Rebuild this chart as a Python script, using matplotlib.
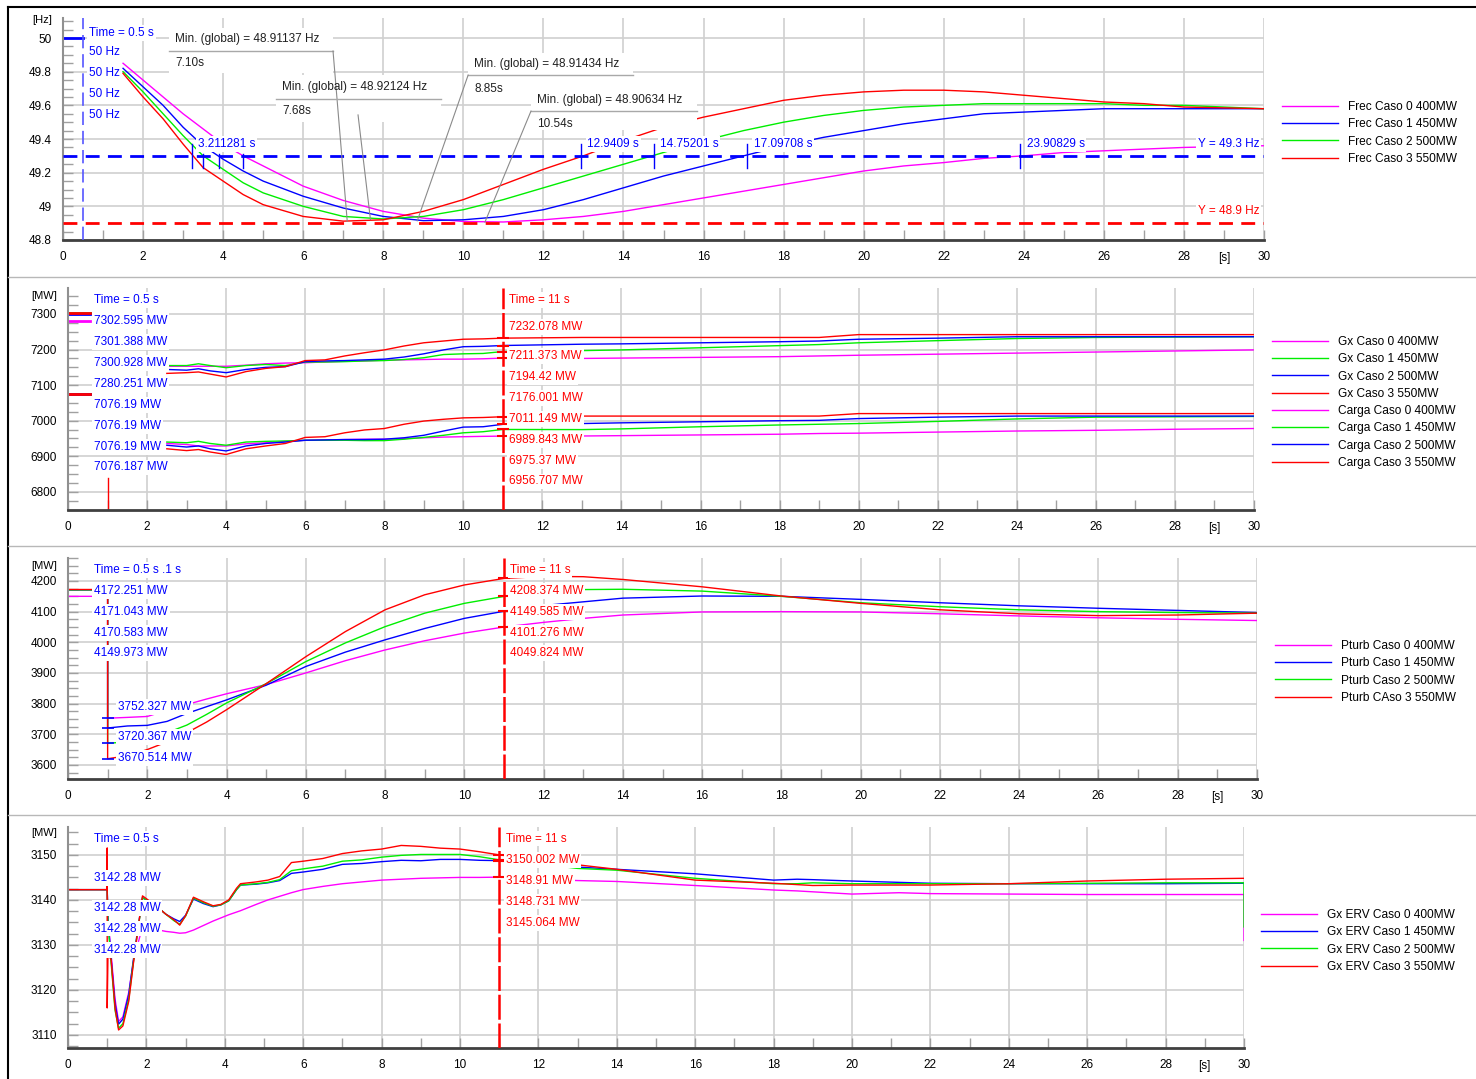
import numpy as np
import matplotlib
matplotlib.use('Agg')
import matplotlib.pyplot as plt
from matplotlib.lines import Line2D
from matplotlib.patches import Rectangle
from matplotlib.ticker import MultipleLocator

plt.rcParams['font.family'] = ['Liberation Sans', 'DejaVu Sans']
plt.rcParams['font.size'] = 8.5

MAG = '#ff00ff'
BLU = '#0000ff'
GRN = '#00ee00'
RED = '#ff0000'

# ---------------- panel 1 : frequency [Hz]
t_f = [1.5, 2.0, 2.5, 3.0, 3.5, 4.0, 4.5, 5.0, 6.0, 7.0, 8.0, 9.0, 10.0, 11.0, 12.0,
       13.0, 14.0, 15.0, 16.0, 17.0, 18.0, 19.0, 20.0, 21.0, 22.0, 23.0, 24.0, 25.0,
       26.0, 27.0, 28.0, 29.0, 30.0]
frec_c0 = [49.85, 49.75, 49.65, 49.55, 49.46, 49.37, 49.30, 49.24, 49.12, 49.035, 48.97,
           48.93, 48.91, 48.907, 48.92, 48.94, 48.97, 49.01, 49.05, 49.09, 49.13, 49.17,
           49.21, 49.24, 49.26, 49.285, 49.30, 49.32, 49.33, 49.34, 49.35, 49.355, 49.36]
frec_c1 = [49.82, 49.71, 49.60, 49.47, 49.36, 49.28, 49.21, 49.15, 49.06, 48.99, 48.94,
           48.915, 48.92, 48.94, 48.98, 49.04, 49.11, 49.18, 49.24, 49.30, 49.36, 49.41,
           49.45, 49.49, 49.52, 49.55, 49.56, 49.57, 49.58, 49.58, 49.58, 49.58, 49.58]
frec_c2 = [49.80, 49.68, 49.55, 49.42, 49.30, 49.22, 49.14, 49.08, 49.00, 48.94, 48.925,
           48.94, 48.98, 49.04, 49.11, 49.18, 49.25, 49.32, 49.39, 49.45, 49.50, 49.54,
           49.57, 49.59, 49.60, 49.61, 49.61, 49.61, 49.61, 49.60, 49.60, 49.59, 49.58]
frec_c3 = [49.79, 49.65, 49.52, 49.37, 49.23, 49.15, 49.07, 49.01, 48.94, 48.912, 48.92,
           48.97, 49.04, 49.13, 49.22, 49.30, 49.39, 49.47, 49.53, 49.58, 49.63, 49.66,
           49.68, 49.69, 49.69, 49.68, 49.66, 49.64, 49.62, 49.61, 49.59, 49.585, 49.58]
f_init = 50.0
f_limit_hi = 49.3
f_limit_lo = 48.9
cross_t = [3.211281, 3.5, 3.9, 4.5, 12.9409, 14.75201, 17.09708, 23.90829]
cross_labeled = [True, False, False, False, True, True, True, True]
min_f = [48.91137, 48.92124, 48.91434, 48.90634]
min_t = [7.10, 7.68, 8.85, 10.54]

# ---------------- panel 2 : Gx and Carga [MW]
t_p2 = [2.5, 3.0, 3.3, 3.6, 4.0, 4.5, 5.0, 5.5, 6.0, 6.5, 7.0, 7.5, 8.0, 8.5, 9.0, 9.5,
        10.0, 10.5, 11.0, 13.0, 14.0, 16.0, 18.0, 19.0, 20.0, 22.0, 24.0, 26.0, 28.0, 30.0]
gx_c0 = [7153, 7153, 7153, 7153, 7153, 7156, 7160, 7162, 7163, 7165, 7167, 7168, 7170, 7171,
         7172, 7173, 7173, 7174, 7176.001, 7175, 7176, 7178, 7180, 7182, 7184, 7187, 7190,
         7193, 7196, 7199]
gx_c1 = [7155, 7155, 7160, 7155, 7149, 7155, 7158, 7155, 7165, 7165, 7166, 7168, 7169, 7172,
         7177, 7186, 7188, 7189, 7194.42, 7197, 7199, 7205, 7211, 7214, 7219, 7225, 7231,
         7234, 7235, 7236]
gx_c2 = [7144, 7142, 7146, 7140, 7135, 7144, 7150, 7152, 7166, 7168, 7169, 7171, 7173, 7179,
         7188, 7199, 7208, 7209, 7211.373, 7215, 7216, 7219, 7222, 7224, 7229, 7232, 7236,
         7236, 7236, 7236]
gx_c3 = [7133, 7135, 7137, 7131, 7123, 7138, 7147, 7152, 7169, 7171, 7182, 7191, 7199, 7210,
         7219, 7224, 7229, 7230, 7232.078, 7234, 7234, 7234, 7234, 7234, 7242, 7242, 7242,
         7242, 7242, 7242]
carga_c0 = [6936, 6933, 6929, 6929, 6929, 6935, 6938, 6942, 6945, 6946, 6947, 6948, 6948,
            6950, 6952, 6954, 6955, 6956, 6956.707, 6957, 6958, 6960, 6962, 6964, 6965, 6968,
            6971, 6973, 6976, 6978]
carga_c1 = [6940, 6938, 6942, 6936, 6931, 6940, 6942, 6943, 6945, 6945, 6945, 6944, 6944,
            6948, 6953, 6959, 6966, 6969, 6975.37, 6975, 6977, 6983, 6988, 6990, 6992, 6998,
            7005, 7010, 7011, 7012]
carga_c2 = [6931, 6926, 6929, 6921, 6915, 6929, 6936, 6940, 6945, 6946, 6947, 6947, 6948,
            6952, 6959, 6971, 6982, 6983, 6989.843, 6992, 6994, 6997, 7000, 7001, 7006, 7010,
            7013, 7013, 7013, 7013]
carga_c3 = [6921, 6916, 6919, 6912, 6905, 6921, 6929, 6936, 6953, 6955, 6966, 6974, 6978,
            6990, 6999, 7004, 7008, 7009, 7011.149, 7013, 7013, 7013, 7013, 7013, 7020, 7020,
            7020, 7020, 7020, 7020]
gx_init = [7280.251, 7301.388, 7300.928, 7302.595]          # caso 0..3 at t = 0.5 s
carga_init = [7076.187, 7076.19, 7076.19, 7076.19]
gx_read_05 = [7302.595, 7301.388, 7300.928, 7280.251]
carga_read_05 = [7076.19, 7076.19, 7076.19, 7076.187]
gx_read_11 = [7232.078, 7211.373, 7194.42, 7176.001]
carga_read_11 = [7011.149, 6989.843, 6975.37, 6956.707]
gx_trip_low = 6838

# ---------------- panel 3 : Pturb [MW]
t_p3 = [0.0, 1.0, 1.0, 1.5, 2.0, 2.5, 3.0, 3.5, 4.0, 5.0, 6.0, 7.0, 8.0, 9.0, 10.0, 11.0,
        12.0, 13.0, 14.0, 16.0, 18.0, 20.0, 22.0, 24.0, 26.0, 28.0, 30.0]
pt_c0 = [4149.973, 4149.973, 3752.327, 3755, 3758, 3778, 3797, 3815, 3832, 3862, 3900, 3940,
         3975, 4005, 4030, 4049.824, 4065, 4078, 4089, 4099, 4100, 4099, 4093, 4086, 4080,
         4075, 4071]
pt_c1 = [4170.583, 4170.583, 3720.367, 3727, 3729, 3742, 3768, 3790, 3812, 3860, 3921, 3968,
         4008, 4045, 4078, 4101.276, 4120, 4132, 4144, 4151, 4150, 4140, 4129, 4119, 4111,
         4104, 4097]
pt_c2 = [4171.043, 4171.043, 3670.514, 3675, 3688, 3705, 3730, 3765, 3802, 3865, 3937, 3998,
         4051, 4095, 4127, 4149.585, 4165, 4172, 4173, 4167, 4150, 4129, 4116, 4106, 4100,
         4097, 4095]
pt_c3 = [4172.251, 4172.251, 3620, 3630, 3650, 3675, 3705, 3740, 3780, 3865, 3953, 4035,
         4106, 4155, 4187, 4208.374, 4215, 4214, 4205, 4181, 4151, 4127, 4106, 4093, 4087,
         4089, 4095]
pt_read_05 = [4172.251, 4171.043, 4170.583, 4149.973]
pt_read_1 = [3752.327, 3720.367, 3670.514]
pt_read_11 = [4208.374, 4149.585, 4101.276, 4049.824]

# ---------------- panel 4 : Gx ERV [MW]
t_p4 = [0.0, 1.0, 1.0, 1.0, 1.02, 1.1, 1.2, 1.29, 1.4, 1.55, 1.68, 1.9, 2.2,
        2.5, 2.7, 2.85, 3.0, 3.2, 3.45, 3.7, 3.9, 4.1, 4.3, 4.4,
        4.8, 5.1, 5.4, 5.7, 6.0, 6.5, 7.0, 7.5, 8.0, 8.5, 9.0, 9.5, 10.0, 10.5, 11.0,
        12.0, 13.0, 14.0, 16.0, 18.0, 18.6, 19.0, 20.0, 21.2, 22.0, 24.0, 26.0, 28.0, 30.0, 30.0]
erv_c0 = [3142.28, 3142.28, 3142.28, 3142.28, 3136.0, 3128.0, 3118.0, 3113.0, 3114.0, 3119.5,
          3127.0, 3134.0, 3133.5,
          3133.0, 3132.8, 3132.6, 3132.7, 3133.3, 3134.3, 3135.3, 3136.0, 3136.7, 3137.3, 3137.6,
          3139.0, 3140.0, 3140.8, 3141.6, 3142.3, 3143.0, 3143.6, 3144.0, 3144.4, 3144.6, 3144.8,
          3144.9, 3145.0, 3145.0, 3145.064,
          3144.6, 3144.3, 3144.1, 3143.2, 3142.2, 3142.0, 3141.8, 3141.3, 3141.6, 3141.4, 3141.3,
          3141.2, 3141.2, 3141.2, 3131.0]
erv_c1 = [3142.28, 3142.28, 3142.28, 3142.28, 3135.5, 3127.0, 3117.0, 3112.4, 3113.5, 3119.0,
          3127.5, 3140.5, 3139.0,
          3136.8, 3135.8, 3135.2, 3136.6, 3140.2, 3139.2, 3138.5, 3138.9, 3139.8, 3142.3, 3143.3,
          3143.5, 3143.8, 3144.3, 3145.9, 3146.2, 3146.8, 3147.9, 3148.1, 3148.5, 3148.8, 3148.7,
          3149.0, 3149.0, 3148.8, 3148.731,
          3148.0, 3147.3, 3146.8, 3145.8, 3144.4, 3144.6, 3144.5, 3144.2, 3143.9, 3143.7, 3143.6,
          3143.6, 3143.6, 3143.7, 3143.7]
erv_c2 = [3142.28, 3142.28, 3142.28, 3142.28, 3135.0, 3126.0, 3115.5, 3111.5, 3112.5, 3118.0,
          3127.0, 3140.5, 3139.0,
          3136.8, 3135.4, 3134.6, 3136.4, 3140.4, 3139.4, 3138.6, 3138.9, 3139.8, 3142.3, 3143.3,
          3143.6, 3143.9, 3144.5, 3146.5, 3146.9, 3147.5, 3148.6, 3148.9, 3149.5, 3149.9, 3150.1,
          3150.1, 3150.1, 3149.6, 3148.91,
          3148.0, 3147.0, 3146.6, 3144.8, 3143.6, 3143.6, 3143.8, 3143.6, 3143.6, 3143.6, 3143.6,
          3143.7, 3143.8, 3143.8, 3134.0]
erv_c3 = [3142.28, 3142.28, 3151.5, 3116.0, 3128.0, 3126.7, 3116.0, 3111.1, 3112.0, 3117.5,
          3126.7, 3140.9, 3139.0,
          3136.8, 3135.6, 3134.4, 3136.5, 3140.6, 3139.6, 3138.7, 3139.0, 3140.0, 3142.6, 3143.6,
          3144.0, 3144.4, 3145.2, 3148.3, 3148.6, 3149.2, 3150.3, 3150.9, 3151.3, 3152.1, 3151.9,
          3151.5, 3151.3, 3150.7, 3150.002,
          3149.0, 3147.8, 3146.8, 3144.4, 3143.7, 3143.4, 3143.2, 3143.3, 3143.3, 3143.3, 3143.6,
          3144.2, 3144.6, 3144.8, 3144.8]
erv_read_05 = [3142.28, 3142.28, 3142.28, 3142.28]
erv_read_11 = [3150.002, 3148.91, 3148.731, 3145.064]

W, H = 1476, 1079
fig = plt.figure(figsize=(W / 100, H / 100), dpi=100)


def px_axes(l, t, r, b):
    return fig.add_axes([l / W, 1 - b / H, (r - l) / W, (b - t) / H])


def style(ax, ylim, yticks, yminor, unit, unit_dy):
    ax.set_xlim(0, 30)
    ax.set_ylim(*ylim)
    xt = list(range(0, 29, 2)) + [30]
    ax.set_xticks(xt)
    ax.set_xticklabels([str(v) for v in xt])
    ax.xaxis.set_minor_locator(MultipleLocator(1))
    ax.set_yticks(yticks)
    ax.set_yticklabels(['%g' % v for v in yticks])
    ax.yaxis.set_minor_locator(MultipleLocator(yminor))
    ax.grid(True, which='major', color='#d0d0d0', lw=1.2)
    ax.tick_params(which='both', direction='in', color='#a0a0a0', labelsize=8.5, pad=8,
                   length=7, width=1)
    for s in ['top', 'right']:
        ax.spines[s].set_visible(False)
    ax.spines['left'].set_color('#909090')
    ax.spines['left'].set_linewidth(1.5)
    ax.spines['bottom'].set_color('#404040')
    ax.spines['bottom'].set_linewidth(2)
    ax.text(29, -0.081, '[s]', transform=ax.get_xaxis_transform(), ha='center', va='center',
            fontsize=8.5)
    ax.text(-0.009, 1 - unit_dy, unit, transform=ax.transAxes, ha='right', va='center',
            fontsize=8)


def labels(ax, x, ys, texts, color):
    for y, s in zip(ys, texts):
        ax.text(x, y, s, color=color, fontsize=8.5, ha='left', va='center', zorder=5,
                bbox=dict(boxstyle='square,pad=0.15', fc='white', ec='none'))


def legend(ax, handles, names, x_px, y_px):
    ax.legend(handles, names, loc='upper left', bbox_to_anchor=(x_px / W, 1 - y_px / H),
              bbox_transform=fig.transFigure, frameon=False, fontsize=8.6, handlelength=4.65,
              handletextpad=0.9, labelspacing=0.44, borderpad=0, borderaxespad=0)


cols = [MAG, BLU, GRN, RED]
cols_gx = [MAG, GRN, BLU, RED]

# ---------------- panel 1
ax1 = px_axes(63, 18, 1264, 240)
style(ax1, (48.8, 50.119), [48.8, 49.0, 49.2, 49.4, 49.6, 49.8, 50.0], 0.05, '[Hz]', 0.01)
h1 = []
for y, c in zip([frec_c0, frec_c1, frec_c2, frec_c3], cols):
    h1 += ax1.plot(t_f, y, color=c, lw=1)
ax1.plot([0, 0.5], [f_init, f_init], color=BLU, lw=2)
ax1.axvline(0.5, color='#5555ff', lw=1.2, ls=(0, (8, 3.5)), zorder=3)
ax1.axhline(f_limit_hi, color=BLU, lw=2, ls=(0, (5, 3)), zorder=3)
ax1.axhline(f_limit_lo, color=RED, lw=2, ls=(0, (5, 3)), zorder=3)
for tc, lab in zip(cross_t, cross_labeled):
    ax1.plot([tc, tc], [49.23, 49.37 if lab else 49.31], color=BLU, lw=1, zorder=4)
labels(ax1, 0.65, [50.03, 49.917, 49.792, 49.667, 49.542],
       ['Time = 0.5 s'] + ['%g Hz' % f_init] * 4, BLU)
for tc, lab in zip(cross_t, cross_labeled):
    if lab:
        labels(ax1, tc + 0.16, [49.37], ['%s s' % tc], BLU)
labels(ax1, 28.35, [49.37], ['Y = %g Hz' % f_limit_hi], BLU)
labels(ax1, 28.35, [48.972], ['Y = %g Hz' % f_limit_lo], RED)

# min annotation boxes: (text x, row1 y, row2 y, box x0, x1, box top, box bottom, line y, anchor)
boxes = [(2.8, 49.994, 49.85, 2.65, 6.745, 50.06, 49.79, 49.923, (6.745, 49.923)),
         (5.47, 49.71, 49.566, 5.32, 9.44, 49.78, 49.50, 49.64, (7.37, 49.543)),
         (10.27, 49.846, 49.70, 10.12, 14.24, 49.91, 49.64, 49.78, (10.12, 49.78)),
         (11.84, 49.632, 49.49, 11.69, 15.84, 49.70, 49.453, 49.566, (11.69, 49.566))]
for (tx, r1, r2, x0, x1, yt, yb, yl, anc), mf, mt in zip(boxes, min_f, min_t):
    ax1.add_patch(Rectangle((x0, yb), x1 - x0, yt - yb, fc='white', ec='none', zorder=4))
    ax1.plot([x0, x1], [yl, yl], color='#a8a8a8', lw=1, zorder=6)
    ax1.text(tx, r1, 'Min. (global) = %.5f Hz' % mf, fontsize=8.5, color='#202020',
             va='center', zorder=6)
    ax1.text(tx, r2, '%.2fs' % mt, fontsize=8.5, color='#202020', va='center', zorder=6)
    ax1.plot([anc[0], mt], [anc[1], mf], color='#8a8a8a', lw=0.8, zorder=6)
legend(ax1, h1, ['Frec Caso 0 400MW', 'Frec Caso 1 450MW', 'Frec Caso 2 500MW',
                 'Frec Caso 3 550MW'], 1282, 101)

# ---------------- panel 2
ax2 = px_axes(68, 288, 1254, 510)
style(ax2, (6749, 7373), [6800, 6900, 7000, 7100, 7200, 7300], 25, '[MW]', 0.036)
hg, hc = [], []
for i, c in enumerate(cols_gx):
    hg += ax2.plot(t_p2, [gx_c0, gx_c1, gx_c2, gx_c3][i], color=c, lw=1)
    hc += ax2.plot(t_p2, [carga_c0, carga_c1, carga_c2, carga_c3][i], color=c, lw=1)
    ax2.plot([0, 0.55], [gx_init[i]] * 2, color=c, lw=2)
    ax2.plot([0, 0.55], [carga_init[i]] * 2, color=c, lw=2)
ax2.plot([1.0, 1.0], [6749, gx_trip_low], color=RED, lw=1)
ax2.axvline(11, color=RED, lw=1.8, ls=(0, (10, 1.5)), zorder=3)
ax2.plot([11] * 8, gx_read_11 + carga_read_11, ls='none', marker='_', ms=9, mew=1.5,
         color=RED, zorder=3)
labels(ax2, 0.66, [7339.4, 7280.3, 7221.1, 7162.0, 7102.8, 7043.7, 6984.5, 6925.4, 6869.0],
       ['Time = 0.5 s'] + ['%s MW' % v for v in gx_read_05 + carga_read_05], BLU)
labels(ax2, 11.16, [7339.4, 7263.4, 7181.7, 7122.5, 7063.4, 7004.2, 6945.1, 6885.9, 6829.6],
       ['Time = 11 s'] + ['%s MW' % v for v in gx_read_11 + carga_read_11], RED)
legend(ax2, hg + hc, ['Gx Caso 0 400MW', 'Gx Caso 1 450MW', 'Gx Caso 2 500MW',
                      'Gx Caso 3 550MW', 'Carga Caso 0 400MW', 'Carga Caso 1 450MW',
                      'Carga Caso 2 500MW', 'Carga Caso 3 550MW'], 1272, 336)

# ---------------- panel 3
ax3 = px_axes(68, 558, 1257, 779)
style(ax3, (3554, 4275), [3600, 3700, 3800, 3900, 4000, 4100, 4200], 25, '[MW]', 0.036)
h3 = []
for y, c in zip([pt_c0, pt_c1, pt_c2, pt_c3], cols):
    h3 += ax3.plot(t_p3, y, color=c, lw=1)
ax3.plot([1.0] * 4, pt_read_1 + [pt_c3[2]], ls='none', marker='_', ms=9, mew=1.2, color=BLU,
         zorder=3)
ax3.axvline(11, color=RED, lw=1.8, ls=(0, (10, 1.5)), zorder=3)
ax3.plot([11] * 4, pt_read_11, ls='none', marker='_', ms=9, mew=1.5, color=RED, zorder=3)
labels(ax3, 0.66, [4235.9, 4167.4, 4098.9, 4030.5, 3965.2],
       ['Time = 0.5 s .1 s'] + ['%s MW' % v for v in pt_read_05], BLU)
labels(ax3, 1.26, [3789.2, 3691.4, 3622.9], ['%s MW' % v for v in pt_read_1], BLU)
labels(ax3, 11.15, [4235.9, 4167.4, 4098.9, 4030.5, 3965.2],
       ['Time = 11 s'] + ['%s MW' % v for v in pt_read_11], RED)
legend(ax3, h3, ['Pturb Caso 0 400MW', 'Pturb Caso 1 450MW', 'Pturb Caso 2 500MW',
                 'Pturb CAso 3 550MW'], 1275, 640)

# ---------------- panel 4
ax4 = px_axes(68, 827, 1244, 1048)
style(ax4, (3107.1, 3156.2), [3110, 3120, 3130, 3140, 3150], 2.5, '[MW]', 0.027)
h4 = []
for y, c in zip([erv_c0, erv_c1, erv_c2, erv_c3], cols):
    h4 += ax4.plot(t_p4, y, color=c, lw=1)
ax4.axvline(11, color=RED, lw=1.8, ls=(0, (10, 1.5)), zorder=3)
ax4.plot([11] * 4, erv_read_11, ls='none', marker='_', ms=9, mew=1.5, color=RED, zorder=3)
labels(ax4, 0.66, [3153.6, 3144.9, 3138.2, 3133.6, 3128.9],
       ['Time = 0.5 s'] + ['%s MW' % v for v in erv_read_05], BLU)
labels(ax4, 11.17, [3153.6, 3148.9, 3144.2, 3139.6, 3134.9],
       ['Time = 11 s'] + ['%s MW' % v for v in erv_read_11], RED)
legend(ax4, h4, ['Gx ERV Caso 0 400MW', 'Gx ERV Caso 1 450MW', 'Gx ERV Caso 2 500MW',
                 'Gx ERV Caso 3 550MW'], 1261, 909)

# frame and panel separators
fig.add_artist(Line2D([8 / W, 8 / W], [0, 1 - 7 / H], color='black', lw=1.5))
fig.add_artist(Line2D([8 / W, 1], [1 - 7 / H, 1 - 7 / H], color='black', lw=1.5))
for yp in [277, 546, 815]:
    fig.add_artist(Line2D([8 / W, 1], [1 - yp / H] * 2, color='#b8b8b8', lw=1))

fig.savefig('out.png', dpi=100, facecolor='white')
